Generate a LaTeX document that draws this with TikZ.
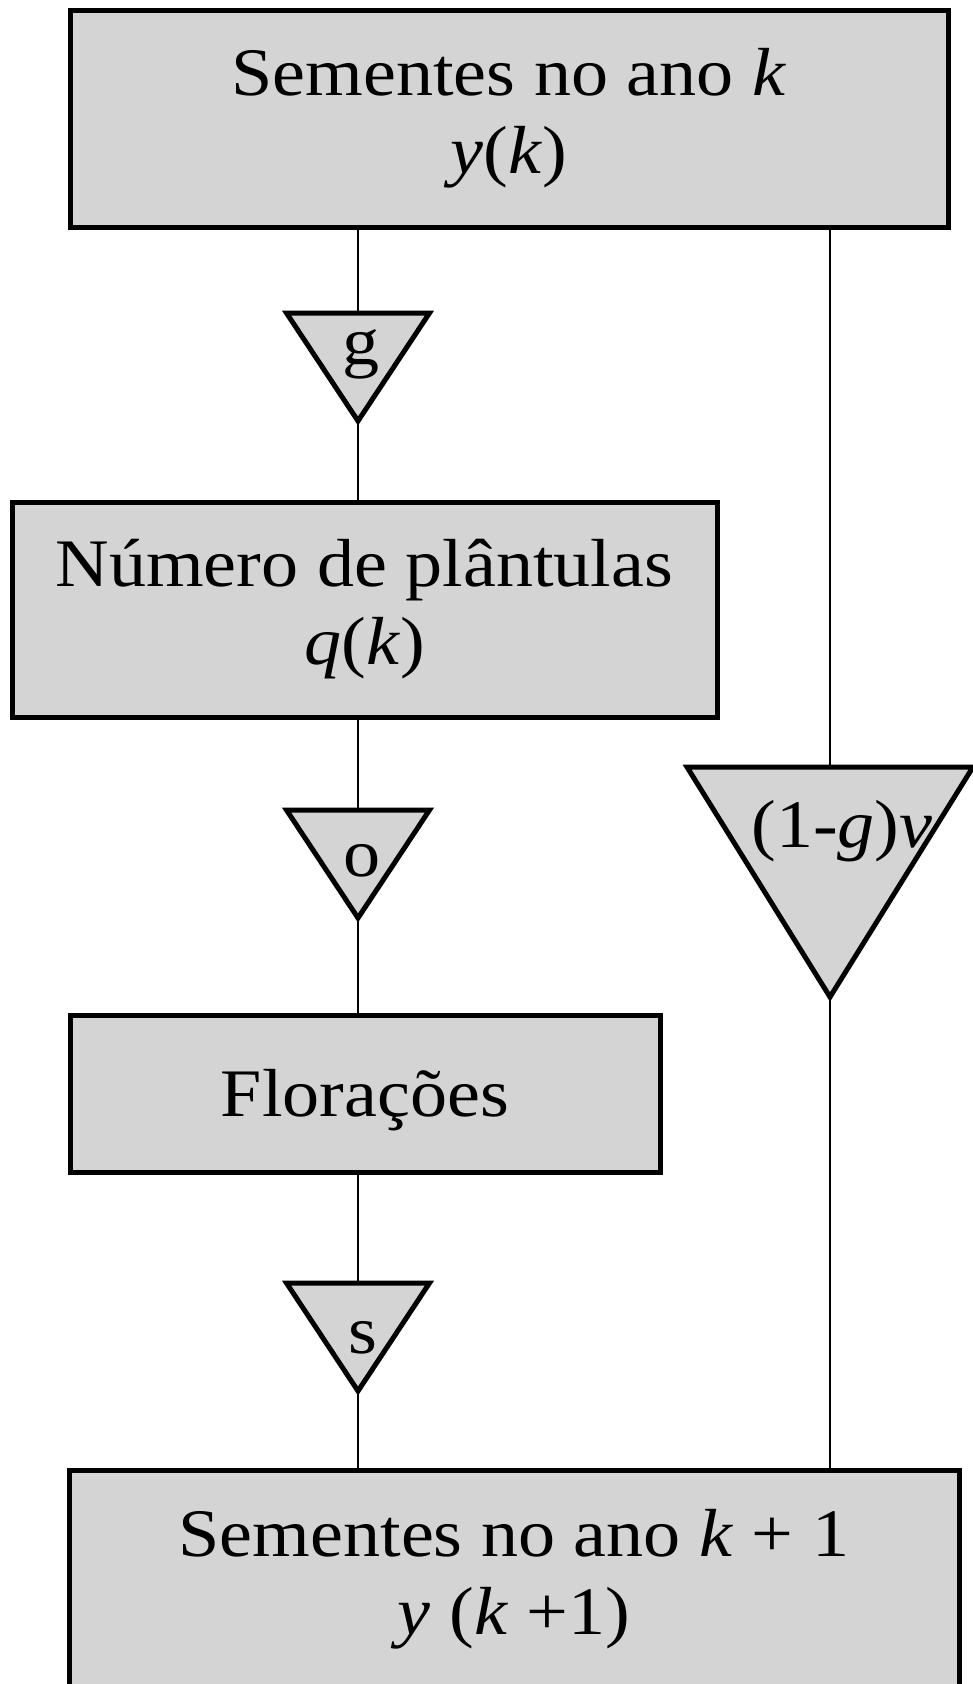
\documentclass[tikz,border=0pt]{standalone}
\usepackage{fontspec}
\setmainfont{Liberation Serif}[FakeStretch=1.09]
\usepackage{tikz}
\usetikzlibrary{shapes.geometric,positioning}
\definecolor{halftone}{gray}{0.83}

\begin{document}
\begin{tikzpicture}[x=1pt, y=-1pt,
	box/.style={draw, rectangle, line width=5pt, fill=halftone, inner sep=0pt, outer sep=0pt, align=center, font=\fontsize{68}{78}\selectfont},
	tri/.style={draw, isosceles triangle, isosceles triangle stretches, shape border rotate=270, line width=5pt, fill=halftone, inner sep=0pt, outer sep=0pt},
	lbl/.style={anchor=base, inner sep=0pt, font=\fontsize{68}{78}\selectfont},
	wire/.style={line width=2.6pt}]
	\useasboundingbox (0,0) rectangle (973,1684);
	\node[box, minimum width=878pt, minimum height=217pt] (seeds) at (509,118.5) {Sementes no ano \textit{k}\\\textit{y}(\textit{k})};
	\node[box, minimum width=705pt, minimum height=215pt] (plants) at (364.5,609.5) {Número de plântulas\\\textit{q}(\textit{k})};
	\node[box, minimum width=590pt, minimum height=157pt, text height=50pt, text depth=5pt] (flowers) at (365,1093.5) {Florações};
	\node[box, minimum width=890pt, minimum height=218pt] (nextseeds) at (514,1579) {Sementes no ano \textit{k} + 1\\\textit{y} (\textit{k} +1)};
	
	\node[tri, minimum width=143pt, minimum height=108pt, anchor=lower side] (gtri) at (358,313) {};
	\node[tri, minimum width=143pt, minimum height=108pt, anchor=lower side] (otri) at (358,810) {};
	\node[tri, minimum width=143pt, minimum height=108pt, anchor=lower side] (stri) at (358,1283) {};
	\node[tri, minimum width=286pt, minimum height=230pt, anchor=lower side] (survtri) at (830,767) {};
	
	\node[lbl] (glbl) at (361,364) {g};
	\node[lbl] (olbl) at (362,876) {o};
	\node[lbl] (slbl) at (363,1353) {s};
	\node[lbl] (survlbl) at (842,847) {(1-\textit{g})\textit{v}};
	
	\draw [-, wire] (seeds.south -| gtri.lower side) -- (gtri.lower side);
	\draw [-, wire] (gtri.apex) -- (gtri.apex |- plants.north);
	\draw [-, wire] (plants.south -| otri.lower side) -- (otri.lower side);
	\draw [-, wire] (otri.apex) -- (otri.apex |- flowers.north);
	\draw [-, wire] (flowers.south -| stri.lower side) -- (stri.lower side);
	\draw [-, wire] (stri.apex) -- (stri.apex |- nextseeds.north);
	\draw [-, wire] (seeds.south -| survtri.lower side) -- (survtri.lower side);
	\draw [-, wire] (survtri.apex) -- (survtri.apex |- nextseeds.north);
\end{tikzpicture}
\end{document}
